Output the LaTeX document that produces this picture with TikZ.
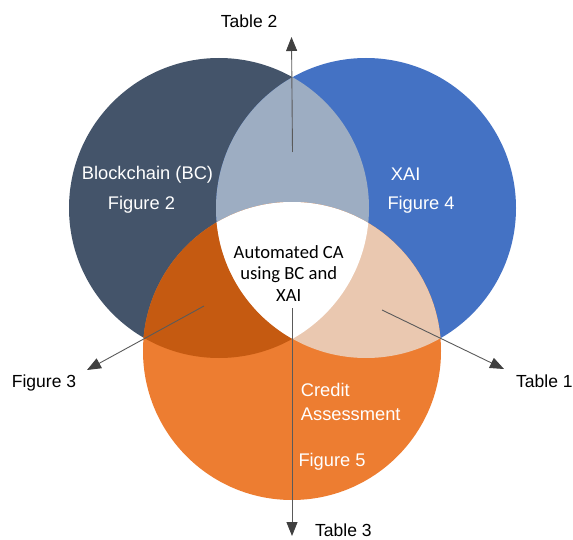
\documentclass[tikz,border=0pt]{standalone}
\usepackage{fontspec}
\setmainfont{Liberation Sans}
\newfontfamily\calibrifont{Carlito}
\usetikzlibrary{arrows.meta}

\definecolor{bcslate}{HTML}{44546A}
\definecolor{xaiblue}{HTML}{4472C4}
\definecolor{caorange}{HTML}{ED7D31}
\definecolor{bcxai}{HTML}{9DADC2}
\definecolor{bcca}{HTML}{C55A11}
\definecolor{xaica}{HTML}{EAC8B0}
\definecolor{arrowgray}{HTML}{5A5A5A}
\definecolor{headgray}{HTML}{404040}

\tikzset{
  outlabel/.style={anchor=base west, inner sep=0pt, text=black,
    font=\fontsize{17.5}{21}\selectfont},
  inlabel/.style={anchor=base west, inner sep=0pt, text=white,
    font=\fontsize{18.3}{24}\selectfont},
  pointer/.style={draw=arrowgray, line width=0.9pt,
    -{Triangle[length=14pt,width=11pt,color=headgray]}},
}

\begin{document}
\begin{tikzpicture}[x=1pt,y=-1pt]
  \useasboundingbox (0,0) rectangle (573,540);

  % circle geometry
  \def\bcpath{(219,208) circle[radius=150]}
  \def\xaipath{(366,208) circle[radius=150]}
  \def\capath{(292,351) circle[radius=149]}

  % single-set areas
  \fill[bcslate] \bcpath;
  \fill[xaiblue] \xaipath;
  \fill[caorange] \capath;

  % pairwise overlaps
  \begin{scope}
    \clip \bcpath;
    \fill[bcxai] \xaipath;
    \fill[bcca] \capath;
  \end{scope}
  \begin{scope}
    \clip \xaipath;
    \fill[xaica] \capath;
  \end{scope}
  % triple overlap
  \begin{scope}
    \clip \bcpath;
    \clip \xaipath;
    \fill[white] \capath;
  \end{scope}

  % labels inside the sets
  \node[inlabel] (bc) at (81.7,179.3) {Blockchain (BC)};
  \node[inlabel] (fig2) at (107.7,209.3) {Figure 2};
  \node[inlabel] (xai) at (390.7,180.7) {XAI};
  \node[inlabel] (fig4) at (387.3,209.3) {Figure 4};
  \node[inlabel] (credit) at (300.7,396.7)
    {\begin{tabular}[t]{@{}l@{}}Credit\\Assessment\end{tabular}};
  \node[inlabel] (fig5) at (298.3,466.7) {Figure 5};
  \node[anchor=base, inner sep=0pt, text=black,
        font=\calibrifont\fontsize{18.6}{21.7}\selectfont] (core) at (288.7,258.3)
    {\begin{tabular}[t]{@{}c@{}}Automated CA\\using BC and\\XAI\end{tabular}};

  % outside labels
  \node[outlabel] (tab2) at (220.7,27.7) {Table 2};
  \node[outlabel] (fig3) at (11.7,387.3) {Figure 3};
  \node[outlabel] (tab1) at (516,387.3) {Table 1};
  \node[outlabel] (tab3) at (315,536.7) {Table 3};

  % pointer ends
  \coordinate (p2s) at (292.5,152);
  \coordinate (p2e) at (291.5,37);
  \coordinate (p3s) at (204,306);
  \coordinate (p3e) at (87,370);
  \coordinate (p1s) at (382,310);
  \coordinate (p1e) at (504,369);
  \coordinate (p4s) at (292,308);
  \coordinate (p4e) at (292,536);

  \draw[pointer] (p2s) -- (p2e);
  \draw[pointer] (p3s) -- (p3e);
  \draw[pointer] (p1s) -- (p1e);
  \draw[pointer] (p4s) -- (p4e);
\end{tikzpicture}
\end{document}
